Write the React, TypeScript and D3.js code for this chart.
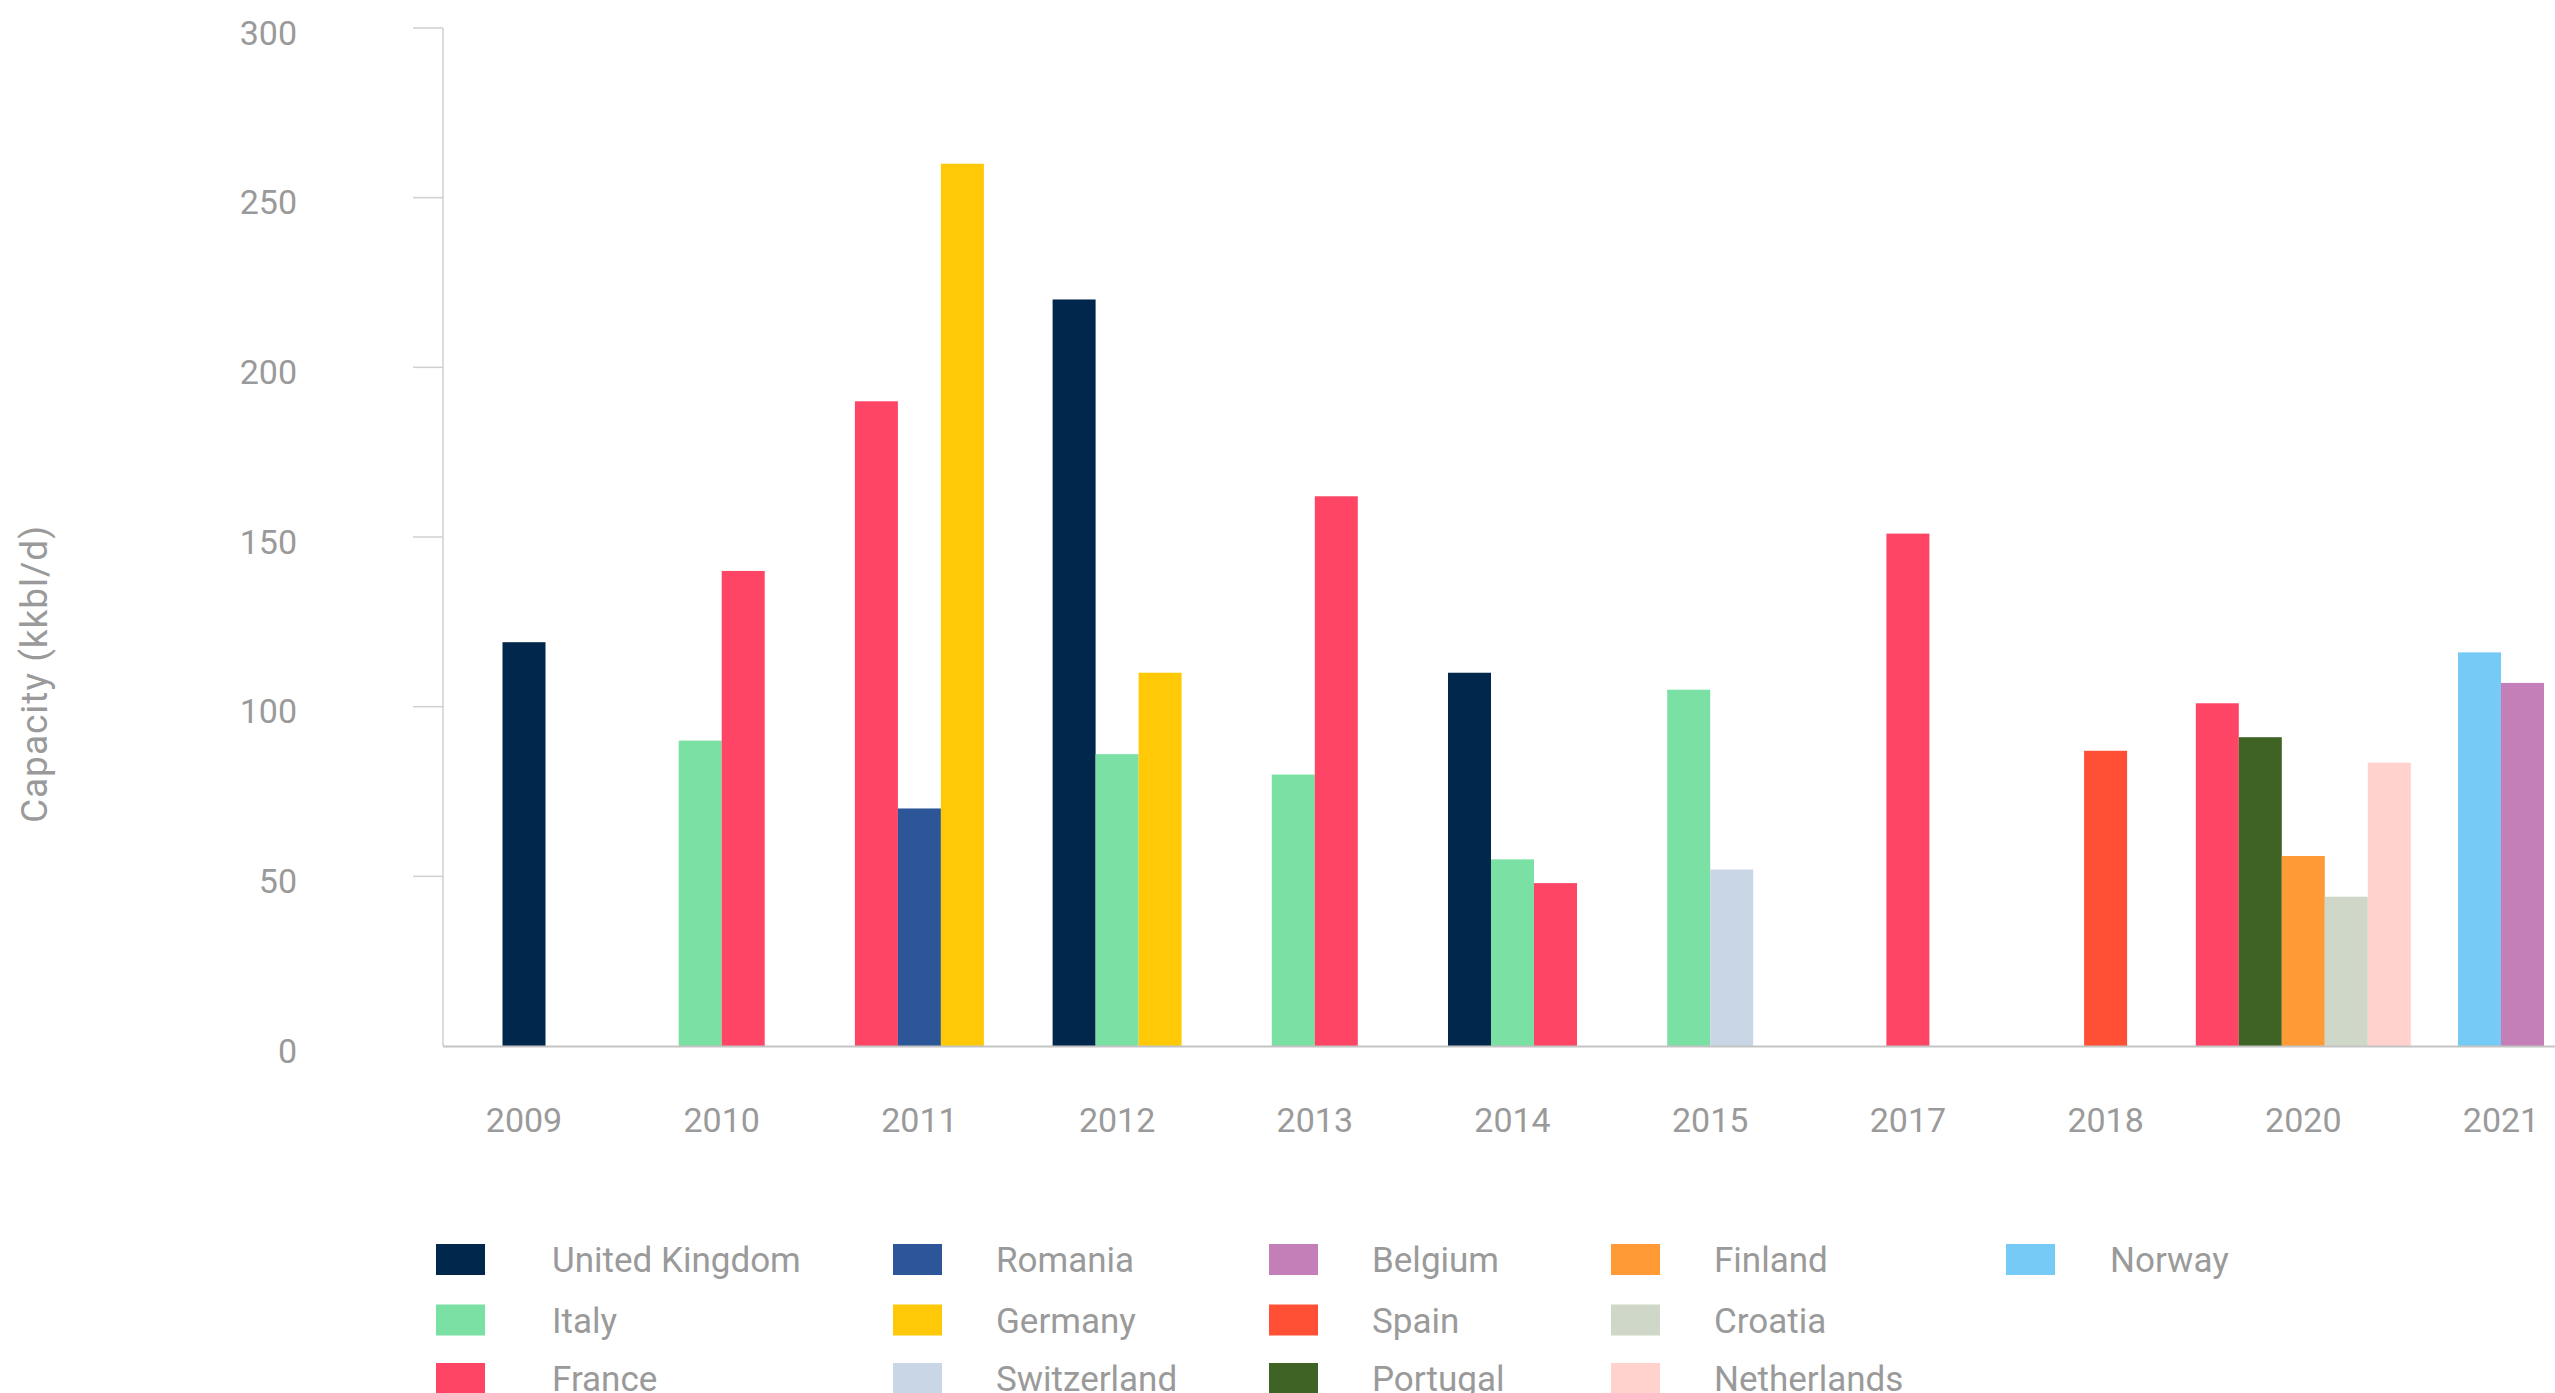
import React, { useEffect } from 'react';
import * as d3 from 'd3';

const years = ['2009', '2010', '2011', '2012', '2013', '2014', '2015', '2017', '2018', '2020', '2021'];
const yTicks = [0, 50, 100, 150, 200, 250, 300];

const unitedKingdom = [119, null, null, 220, null, 110, null, null, null, null, null];
const italy = [null, 90, null, 86, 80, 55, 105, null, null, null, null];
const france = [null, 140, 190, null, 162, 48, null, 151, null, 101, null];
const romania = [null, null, 70, null, null, null, null, null, null, null, null];
const germany = [null, null, 260, 110, null, null, null, null, null, null, null];
const switzerland = [null, null, null, null, null, null, 52, null, null, null, null];
const belgium = [null, null, null, null, null, null, null, null, null, null, 107];
const spain = [null, null, null, null, null, null, null, null, 87, null, null];
const portugal = [null, null, null, null, null, null, null, null, null, 91, null];
const finland = [null, null, null, null, null, null, null, null, null, 56, null];
const croatia = [null, null, null, null, null, null, null, null, null, 44, null];
const netherlands = [null, null, null, null, null, null, null, null, null, 83.5, null];
const norway = [null, null, null, null, null, null, null, null, null, null, 116];

type Series = { name: string; color: string; values: (number | null)[] };

const series: Record<string, Series> = {
  uk: { name: 'United Kingdom', color: '#01284c', values: unitedKingdom },
  it: { name: 'Italy', color: '#7be0a3', values: italy },
  fr: { name: 'France', color: '#ff4566', values: france },
  ro: { name: 'Romania', color: '#2c5697', values: romania },
  de: { name: 'Germany', color: '#ffc907', values: germany },
  ch: { name: 'Switzerland', color: '#c9d6e6', values: switzerland },
  be: { name: 'Belgium', color: '#c47eb8', values: belgium },
  es: { name: 'Spain', color: '#ff5036', values: spain },
  pt: { name: 'Portugal', color: '#3f6325', values: portugal },
  fi: { name: 'Finland', color: '#ff9a36', values: finland },
  hr: { name: 'Croatia', color: '#cfd8c8', values: croatia },
  nl: { name: 'Netherlands', color: '#ffd2ce', values: netherlands },
  no: { name: 'Norway', color: '#75cbf5', values: norway },
};

// order of bars inside a year group
const drawOrder = ['uk', 'it', 'fr', 'ro', 'de', 'ch', 'es', 'pt', 'fi', 'hr', 'nl', 'no', 'be'];
// legend, column-major with 3 rows
const legendOrder = ['uk', 'it', 'fr', 'ro', 'de', 'ch', 'be', 'es', 'pt', 'fi', 'hr', 'nl', 'no'];

const W = 2555;
const H = 1393;
const FONT = 'Roboto, "Liberation Sans", Arial, sans-serif';
const TEXT = '#9a9a9a';

export default function App() {
  useEffect(() => {
    document.body.style.margin = '0';
    document.body.style.overflow = 'hidden';
  }, []);

  const axisX = 443;
  const x = d3.scalePoint<string>().domain(years).range([524, 2501]);
  const y = d3.scaleLinear().domain([0, 300]).range([1046, 28]);
  const barW = 43;

  const bars: { key: string; x: number; y: number; h: number; color: string }[] = [];
  years.forEach((yr, i) => {
    const present = drawOrder.filter((k) => series[k].values[i] != null);
    const n = present.length;
    const cx = x(yr) as number;
    present.forEach((k, j) => {
      const v = series[k].values[i] as number;
      const x0 = cx - (n * barW) / 2 + j * barW;
      bars.push({ key: `${yr}-${k}`, x: x0, y: y(v), h: y(0) - y(v), color: series[k].color });
    });
  });

  const colSwatchX = [436, 893, 1269, 1611, 2006];
  const colTextX = [552, 996, 1372, 1714, 2110];
  const rowTop = [1244, 1304.5, 1363];
  const swW = 49;
  const swH = 31;

  return (
    <div style={{ position: 'absolute', left: 0, top: 0 }}>
      <svg width={W} height={H} style={{ display: 'block' }} fontFamily={FONT}>
        <rect x={0} y={0} width={W} height={H} fill="#ffffff" />
        {/* y axis */}
        <line x1={axisX} x2={axisX} y1={y(300)} y2={y(0)} stroke="#cfcfcf" strokeWidth={1.5} />
        {yTicks.map((t) => (
          <g key={t}>
            {t > 0 && <line x1={413} x2={axisX} y1={y(t)} y2={y(t)} stroke="#cfcfcf" strokeWidth={1.5} />}
            <text x={297} y={y(t) + 16.5} textAnchor="end" fontSize={34} fill={TEXT}>
              {t}
            </text>
          </g>
        ))}
        <text
          transform={`translate(47, 674) rotate(-90)`}
          textAnchor="middle"
          fontSize={37}
          letterSpacing={1}
          fill={TEXT}
        >
          Capacity (kkbl/d)
        </text>
        {/* bars */}
        {bars.map((b) => (
          <rect key={b.key} x={b.x} y={b.y} width={barW} height={b.h} fill={b.color} />
        ))}
        {/* baseline */}
        <line x1={axisX} x2={W} y1={y(0) + 0.5} y2={y(0) + 0.5} stroke="#c4c4c4" strokeWidth={2} />
        {/* x labels */}
        {years.map((yr) => (
          <text key={yr} x={x(yr) as number} y={1132} textAnchor="middle" fontSize={34} fill={TEXT}>
            {yr}
          </text>
        ))}
        {/* legend */}
        {legendOrder.map((k, i) => {
          const col = Math.floor(i / 3);
          const row = i % 3;
          const top = rowTop[row];
          return (
            <g key={k}>
              <rect x={colSwatchX[col]} y={top} width={swW} height={swH} fill={series[k].color} />
              <text x={colTextX[col]} y={top + 28} fontSize={35} fill={TEXT}>
                {series[k].name}
              </text>
            </g>
          );
        })}
      </svg>
    </div>
  );
}
